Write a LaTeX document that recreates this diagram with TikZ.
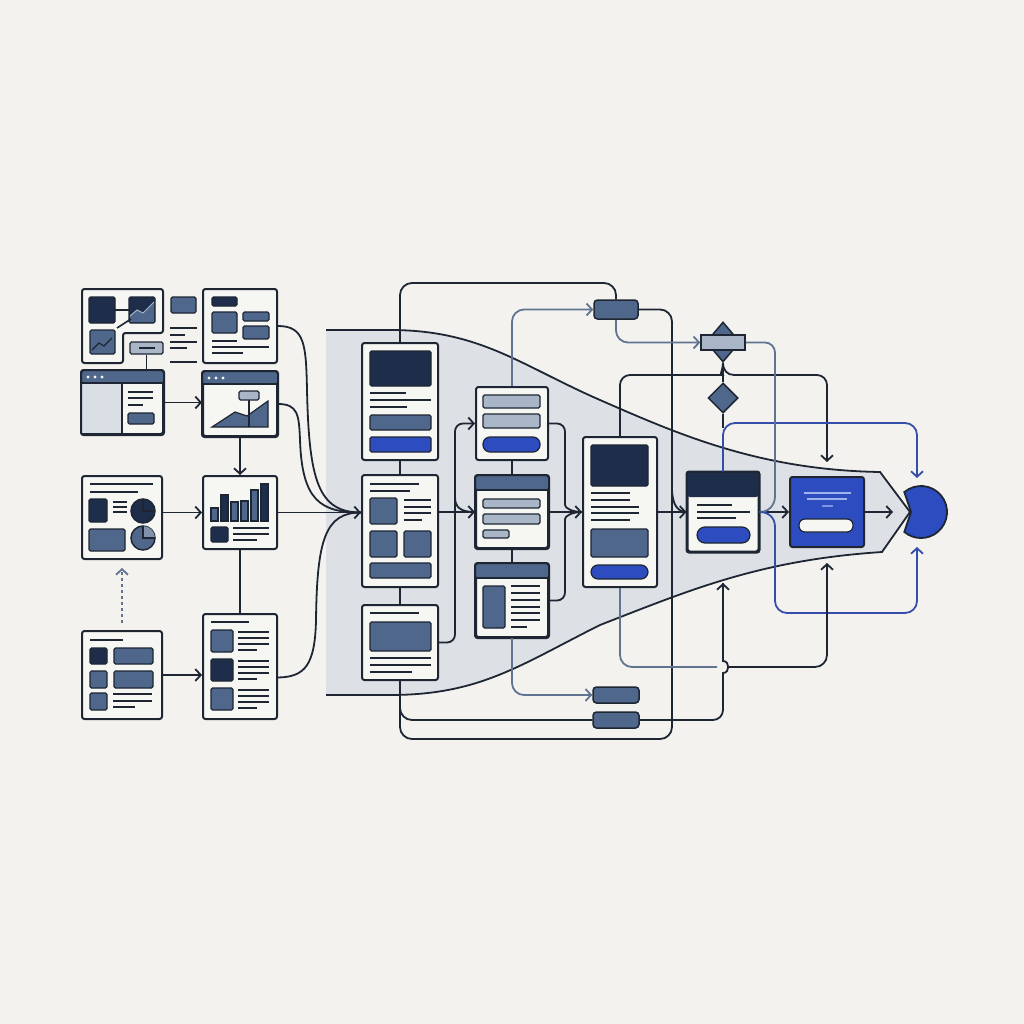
\documentclass[tikz,border=0pt]{standalone}
\usetikzlibrary{arrows.meta,shapes.geometric}

\definecolor{bg}{RGB}{243,242,238}
\definecolor{ink}{RGB}{30,38,52}
\definecolor{navy}{RGB}{29,45,74}
\definecolor{slate}{RGB}{78,103,138}
\definecolor{pale}{RGB}{168,182,200}
\definecolor{panel}{RGB}{218,223,229}
\definecolor{paper}{RGB}{246,246,243}
\definecolor{royal}{RGB}{44,76,192}
\definecolor{slateline}{RGB}{96,116,146}
\definecolor{blueline}{RGB}{52,78,170}
\definecolor{funnel}{RGB}{221,225,229}
\definecolor{glow}{RGB}{160,180,235}

\tikzset{
  card/.style={draw=ink, fill=paper, line width=2pt, rounded corners=2.5pt, inner sep=0pt},
  rim/.style={draw=ink, line width=2pt, rounded corners=2.5pt},
  dk/.style={draw=ink, fill=navy, line width=1.2pt, rounded corners=1.5pt},
  sl/.style={draw=ink, fill=slate, line width=1.2pt, rounded corners=1.5pt},
  lt/.style={draw=ink, fill=pale, line width=1.2pt, rounded corners=1.5pt},
  bl/.style={draw=ink, fill=royal, line width=1.2pt, rounded corners=1.5pt},
  txt/.style={draw=ink, line width=1.6pt},
  pill/.style={draw=ink, fill=slate, line width=1.5pt, rounded corners=3.5pt, inner sep=0pt},
  link/.style={draw=ink, line width=1.8pt},
  slink/.style={draw=slateline, line width=1.8pt},
  blink/.style={draw=blueline, line width=1.8pt}
}

\begin{document}
\begin{tikzpicture}[x=1pt, y=-1pt, >={Straight Barb[length=5.5pt,width=12pt]}]
        \useasboundingbox (0,0) rectangle (1024,1024);
        \fill[bg] (0,0) rectangle (1024,1024);

        % Trichter
        \fill[funnel] (326,330) -- (390,330) .. controls (480,330) and (520,365) .. (600,400)
        .. controls (680,435) and (760,470) .. (880,472) -- (910,512) -- (882,552)
        .. controls (760,560) and (690,590) .. (600,625)
        .. controls (520,665) and (480,695) .. (390,695) -- (326,695) -- cycle;
        \draw[link] (326,330) -- (390,330) .. controls (480,330) and (520,365) .. (600,400)
        .. controls (680,435) and (760,470) .. (880,472) -- (910,512) -- (882,552)
        .. controls (760,560) and (690,590) .. (600,625)
        .. controls (520,665) and (480,695) .. (390,695) -- (326,695);

        % Karte A (L-Form)
        \draw[card] (82,289) -- (163,289) -- (163,333) -- (123,333) -- (123,363) -- (82,363) -- cycle;
        \draw[dk] (89,297) rectangle (115,323);
        \draw[dk] (129,297) rectangle (155,323);
        \fill[slate] (130,322) -- (130,316) -- (137,310) -- (143,313) -- (154,302) -- (154,322) -- cycle;
        \draw[pale, line width=1pt] (130,316) -- (137,310) -- (143,313) -- (154,302);
        \draw[sl] (90,330) rectangle (115,354);
        \draw[ink, line width=1.2pt] (92,350) -- (99,343) -- (104,346) -- (112,338);
        \draw[txt] (115,310) -- (129,310);
        \draw[txt] (117,328) -- (131,319);
        \node[lt, minimum width=33pt, minimum height=12pt, inner sep=0pt] (pilla) at (146.5,348) {};
        \draw[txt] (139,348) -- (155,348);

        % Spalte neben A
        \draw[sl] (171,297) rectangle (196,313);
        \foreach \y/\e in {328/197,335/185,342/197,348/187,362/197}
        \draw[txt] (170,\y) -- (\e,\y);

        % Karte B
        \node[card, minimum width=74pt, minimum height=74pt] (B) at (240,326) {};
        \draw[dk] (212,297) rectangle (237,306);
        \draw[sl] (212,312) rectangle (237,333);
        \draw[sl] (243,312) rectangle (269,321);
        \draw[sl] (243,326) rectangle (269,339);
        \foreach \y/\e in {341/237,347/269,353/243}
        \draw[txt] (212,\y) -- (\e,\y);

        % Karte C (Browser)
        \node[card, minimum width=81pt, minimum height=63pt] (C) at (122.5,402.5) {};
        \fill[slate, rounded corners=2.5pt] (82,371) rectangle (163,383);
        \fill[panel] (82,383) rectangle (122,433);
        \foreach \x in {88,95,102}
        \fill[paper] (\x,377) circle (1.7);
        \draw[ink, line width=1.5pt] (82,383) -- (163,383);
        \draw[ink, line width=1.5pt] (122,383) -- (122,434);
        \foreach \y/\e in {392/153,398/153,405/143}
        \draw[txt] (128,\y) -- (\e,\y);
        \draw[sl] (128,413) rectangle (154,424);
        \draw[rim] (C.north west) rectangle (C.south east);

        % Karte D (Diagramm)
        \node[card, minimum width=74pt, minimum height=64pt] (D) at (240,404) {};
        \fill[slate, rounded corners=2.5pt] (203,372) rectangle (277,384);
        \foreach \x in {209,216,223}
        \fill[paper] (\x,378) circle (1.7);
        \draw[ink, line width=1.5pt] (203,384) -- (277,384);
        \draw[sl, rounded corners=0pt] (212,427) -- (235,412) -- (247,416) -- (268,401) -- (268,427) -- cycle;
        \draw[ink, line width=1.5pt] (249,400) -- (249,427);
        \draw[lt] (239,391) rectangle (259,400);
        \draw[rim] (D.north west) rectangle (D.south east);

        % Karte F (Kreise)
        \node[card, minimum width=80pt, minimum height=83pt] (F) at (122,517.5) {};
        \draw[txt] (90,484) -- (153,484);
        \draw[txt] (90,492) -- (138,492);
        \draw[dk] (89,499) rectangle (107,522);
        \foreach \y in {502,507,512}
        \draw[txt] (113,\y) -- (127,\y);
        \draw[ink, fill=navy, line width=1.5pt] (143,511) circle (12);
        \draw[ink, line width=1.2pt] (143,499) -- (143,511) -- (155,511);
        \draw[sl] (89,529) rectangle (125,551);
        \draw[ink, fill=slate, line width=1.5pt] (143,538) circle (12);
        \fill[slate!70!paper] (143,538) -- (143,526) arc[start angle=-90, end angle=0, radius=12] -- cycle;
        \draw[ink, line width=1.2pt] (143,526) -- (143,538) -- (155,538);

        % Karte E (Balken)
        \node[card, minimum width=74pt, minimum height=73pt] (E) at (240,512.5) {};
        \foreach \x/\t/\c in {211/508/slate,221/495/navy,231/502/slate,241/501/slate,251/490/slate,261/484/navy}
        \draw[ink, fill=\c, line width=1.2pt] (\x,\t) rectangle (\x+7,521);
        \draw[dk] (211,527) rectangle (228,542);
        \foreach \y/\e in {528/269,534/269,540/257}
        \draw[txt] (233,\y) -- (\e,\y);

        % Karte G (Liste)
        \node[card, minimum width=80pt, minimum height=88pt] (G) at (122,675) {};
        \draw[txt] (90,640) -- (123,640);
        \draw[dk] (90,648) rectangle (107,664);
        \draw[sl] (114,648) rectangle (153,664);
        \draw[sl] (90,671) rectangle (107,688);
        \draw[sl] (114,671) rectangle (153,688);
        \draw[sl] (90,693) rectangle (107,710);
        \foreach \y/\e in {694/152,701/152,707/135}
        \draw[txt] (113,\y) -- (\e,\y);

        % Karte H (Zeilen)
        \node[card, minimum width=74pt, minimum height=105pt] (H) at (240,666.5) {};
        \draw[txt] (211,622) -- (249,622);
        \foreach \y/\c in {630/slate,659/navy,688/slate}{
          \draw[ink, fill=\c, line width=1.2pt, rounded corners=1.5pt] (211,\y) rectangle (233,\y+22);
          \foreach \d/\e in {2/269,8/269,14/269,20/257}
          \draw[txt] (238,\y+\d) -- (\e,\y+\d);
        }

        % Mitte: Spalte M
        \node[card, minimum width=76pt, minimum height=117pt] (M1) at (400,401.5) {};
        \draw[dk] (370,351) rectangle (431,386);
        \foreach \y/\e in {393/406,400/431,407/407}
        \draw[txt] (370,\y) -- (\e,\y);
        \draw[sl] (370,415) rectangle (431,430);
        \draw[bl] (370,437) rectangle (431,452);

        \node[card, minimum width=76pt, minimum height=112pt] (M2) at (400,531) {};
        \draw[txt] (370,484) -- (419,484);
        \draw[txt] (370,491) -- (410,491);
        \draw[sl] (370,498) rectangle (397,524);
        \foreach \y/\e in {500/431,507/431,513/431,520/422}
        \draw[txt] (404,\y) -- (\e,\y);
        \draw[sl] (370,531) rectangle (397,557);
        \draw[sl] (404,531) rectangle (431,557);
        \draw[sl] (370,563) rectangle (431,578);

        \node[card, minimum width=76pt, minimum height=75pt] (M3) at (400,642.5) {};
        \draw[txt] (370,613) -- (419,613);
        \draw[sl] (370,622) rectangle (431,651);
        \foreach \y/\e in {658/431,665/431,672/412}
        \draw[txt] (370,\y) -- (\e,\y);

        % Spalte N
        \node[card, minimum width=72pt, minimum height=73pt] (N1) at (512,423.5) {};
        \draw[lt] (483,395) rectangle (540,408);
        \draw[lt] (483,414) rectangle (540,428);
        \draw[bl, rounded corners=7pt] (483,437) rectangle (540,452);

        \node[card, minimum width=72pt, minimum height=72pt] (N2) at (512,512) {};
        \fill[slate, rounded corners=2.5pt] (476,476) rectangle (548,490);
        \draw[ink, line width=1.5pt] (476,490) -- (548,490);
        \draw[lt] (483,499) rectangle (540,508);
        \draw[lt] (483,514) rectangle (540,524);
        \draw[lt] (483,530) rectangle (509,538);
        \draw[rim] (N2.north west) rectangle (N2.south east);

        \node[card, minimum width=72pt, minimum height=73pt] (N3) at (512,600.5) {};
        \fill[slate, rounded corners=2.5pt] (476,564) rectangle (548,578);
        \draw[ink, line width=1.5pt] (476,578) -- (548,578);
        \draw[sl] (483,586) rectangle (505,628);
        \foreach \y/\e in {586/540,593/540,600/540,607/540,613/540,620/540,627/527}
        \draw[txt] (511,\y) -- (\e,\y);
        \draw[rim] (N3.north west) rectangle (N3.south east);

        % Karte O
        \node[card, minimum width=74pt, minimum height=150pt] (O) at (620,512) {};
        \draw[dk] (591,445) rectangle (648,486);
        \foreach \y/\e in {493/630,500/630,507/639,513/639,520/630}
        \draw[txt] (591,\y) -- (\e,\y);
        \draw[sl] (591,529) rectangle (648,557);
        \draw[bl, rounded corners=7pt] (591,565) rectangle (648,579);

        % Karte R
        \node[card, minimum width=71pt, minimum height=79pt] (R) at (723,512) {};
        \fill[navy, rounded corners=2.5pt] (687.5,472.5) rectangle (758.5,497);
        \foreach \y/\e in {505/732,512/750,518/736}
        \draw[txt] (697,\y) -- (\e,\y);
        \draw[bl, rounded corners=8pt] (697,527) rectangle (750,543);
        \draw[rim] (R.north west) rectangle (R.south east);

        % Karte Q (Ziel)
        \node[card, fill=royal, minimum width=74pt, minimum height=70pt] (Q) at (827,512) {};
        \draw[glow, line width=1.5pt] (804,493) -- (851,493);
        \draw[glow, line width=1.5pt] (807,499) -- (847,499);
        \draw[glow!70!royal, line width=1.5pt] (822,506) -- (833,506);
        \draw[ink, fill=paper, line width=1.2pt, rounded corners=6pt] (799,519) rectangle (853,532);

        % Ziel (Halbkreis)
        \coordinate (goal) at (921,512);
        \draw[ink, fill=royal, line width=1.8pt] (904.3,492.1) arc[start angle=-130, end angle=130, radius=26] -- (911,512) -- cycle;
        \coordinate (gtop) at (917,478);
        \coordinate (gbot) at (917,547);

        % Pillen und Rauten
        \node[pill, minimum width=44pt, minimum height=19pt] (P1) at (616,309.5) {};
        \node[pill, minimum width=46pt, minimum height=16pt] (P3) at (616,695) {};
        \node[pill, minimum width=46pt, minimum height=16pt] (P4) at (616,720) {};
        \node[diamond, draw=ink, fill=slate, line width=1.5pt, inner sep=0pt,
              minimum width=34pt, minimum height=40pt] (gate) at (723,342) {};
        \node[draw=ink, fill=pale, line width=1.5pt, inner sep=0pt,
              minimum width=44pt, minimum height=15pt] (gatebar) at (723,342.5) {};
        \node[diamond, draw=ink, fill=slate, line width=1.5pt, inner sep=0pt,
              minimum width=30pt, minimum height=30pt] (check) at (723,398) {};
        \coordinate (qin) at (827,462);
        \coordinate (qbot) at (827,563);
        \coordinate (rin) at (723,583);
        \coordinate (cross) at (723,667);

        % Verbindungen links
        \draw[link] (pilla.south) -- (pilla.south |- C.north);
        \draw[link,->] (C.east -| C.east) -- (C.east -| D.west);
        \draw[link,->] (D.south) -- (E.north);
        \draw[link,->] (F.east |- E.west) -- (E.west);
        \draw[link] (E.south) -- (H.north);
        \draw[link,->] (G.east) -- (G.east -| H.west);
        \draw[slink, dashed, ->] ([yshift=7pt]G.north) -- ([yshift=-8pt]F.south);

        % Zusammenfuehrung in den Trichter
        \draw[link] (B.east) .. controls (305,326) and (306,345) .. (307,390)
        .. controls (309,480) and (318,512.5) .. (M2.west |- E.east);
        \draw[link] (D.east) .. controls (298,404) and (299,415) .. (300,440)
        .. controls (302,500) and (320,512.5) .. (M2.west |- E.east);
        \draw[link] ([yshift=-11pt]H.east) .. controls (305,677) and (315,665) .. (316,620)
        .. controls (317,540) and (325,512.5) .. (M2.west |- E.east);
        \draw[link,->] (E.east) -- (M2.west |- E.east);

        % Spalte M
        \draw[link] (M1.south) -- (M2.north);
        \draw[link] (M2.south) -- (M3.north);
        \draw[link,->] (M2.east |- N2.west) -- (N2.west);
        \draw[link,->, rounded corners=8pt] (M3.east) -- (455,642.5) |- (N1.west);
        \draw[link] (455,497) .. controls (455,507) and (460,512) .. (N2.west);
        \draw[link, rounded corners=12pt] (M1.north) -- (400,283) -| (P1.north);
        \draw[link, rounded corners=12pt] (P1.east) -| (672,739) -| (M3.south);
        \draw[link, rounded corners=12pt] (M3.south) |- (P4.west);

        % Spalte N
        \draw[link] (N1.south) -- (N2.north);
        \draw[link] (N2.south) -- (N3.north);
        \draw[slink,->, rounded corners=12pt] (N1.north) |- (P1.west);
        \draw[slink,->, rounded corners=12pt] (N3.south) |- (P3.west);
        \draw[link,->] (N2.east) -- (O.west);
        \draw[link, rounded corners=8pt] (N1.east) -- (565,423.5) -- (565,497)
        [sharp corners] .. controls (565,508) and (572,512) .. (O.west);
        \draw[link, rounded corners=8pt] (N3.east) -- (565,600.5) -- (565,527)
        [sharp corners] .. controls (565,516) and (572,512) .. (O.west);

        % Weiche oben
        \draw[slink,->, rounded corners=12pt] (P1.south) |- (gatebar.west);
        \draw[link] (gate.south) -- (check.north);
        \draw[link] (check.south) -- (723,428);
        \draw[link, rounded corners=10pt] (O.north) |- (712,375)
        [sharp corners] .. controls (719,375) and (723,370) .. (gate.south);
        \draw[link,->] (gate.south) .. controls (723,370) and (727,375) .. (734,375)
        [rounded corners=10pt] -| (qin);
        \draw[blink,->, rounded corners=12pt] (R.north) |- (917,423) -- (gtop);

        % Rechte Seite
        \draw[link,->] (O.east) -- (R.west);
        \draw[link] (672,488) .. controls (672,505) and (678,512) .. (R.west);
        \draw[link,->] (R.east) -- (Q.west);
        \draw[link,->] (Q.east) -- (893,512);
        \draw[slink] (R.east) .. controls (768,512) and (775,506) .. (775,496)
        [rounded corners=10pt] -- (775,342.5) -- (gatebar.east);
        \draw[blink,->] (R.east) .. controls (768,512) and (775,517) .. (775,527)
        [rounded corners=12pt] -- (775,613) -- (917,613) -- (gbot);

        % Unten
        \draw[slink, rounded corners=12pt] (O.south) |- ([xshift=-6pt]cross);
        \draw[link,->, rounded corners=12pt] ([xshift=6pt]cross) -| (qbot);
        \draw[link, rounded corners=10pt] (P4.east) -| (723,690)
        [sharp corners] -- (723,673) .. controls (730,673) and (730,661) .. (723,661) -- (rin);
        \draw[link,->] (723,600) -- (rin);
\end{tikzpicture}
\end{document}
